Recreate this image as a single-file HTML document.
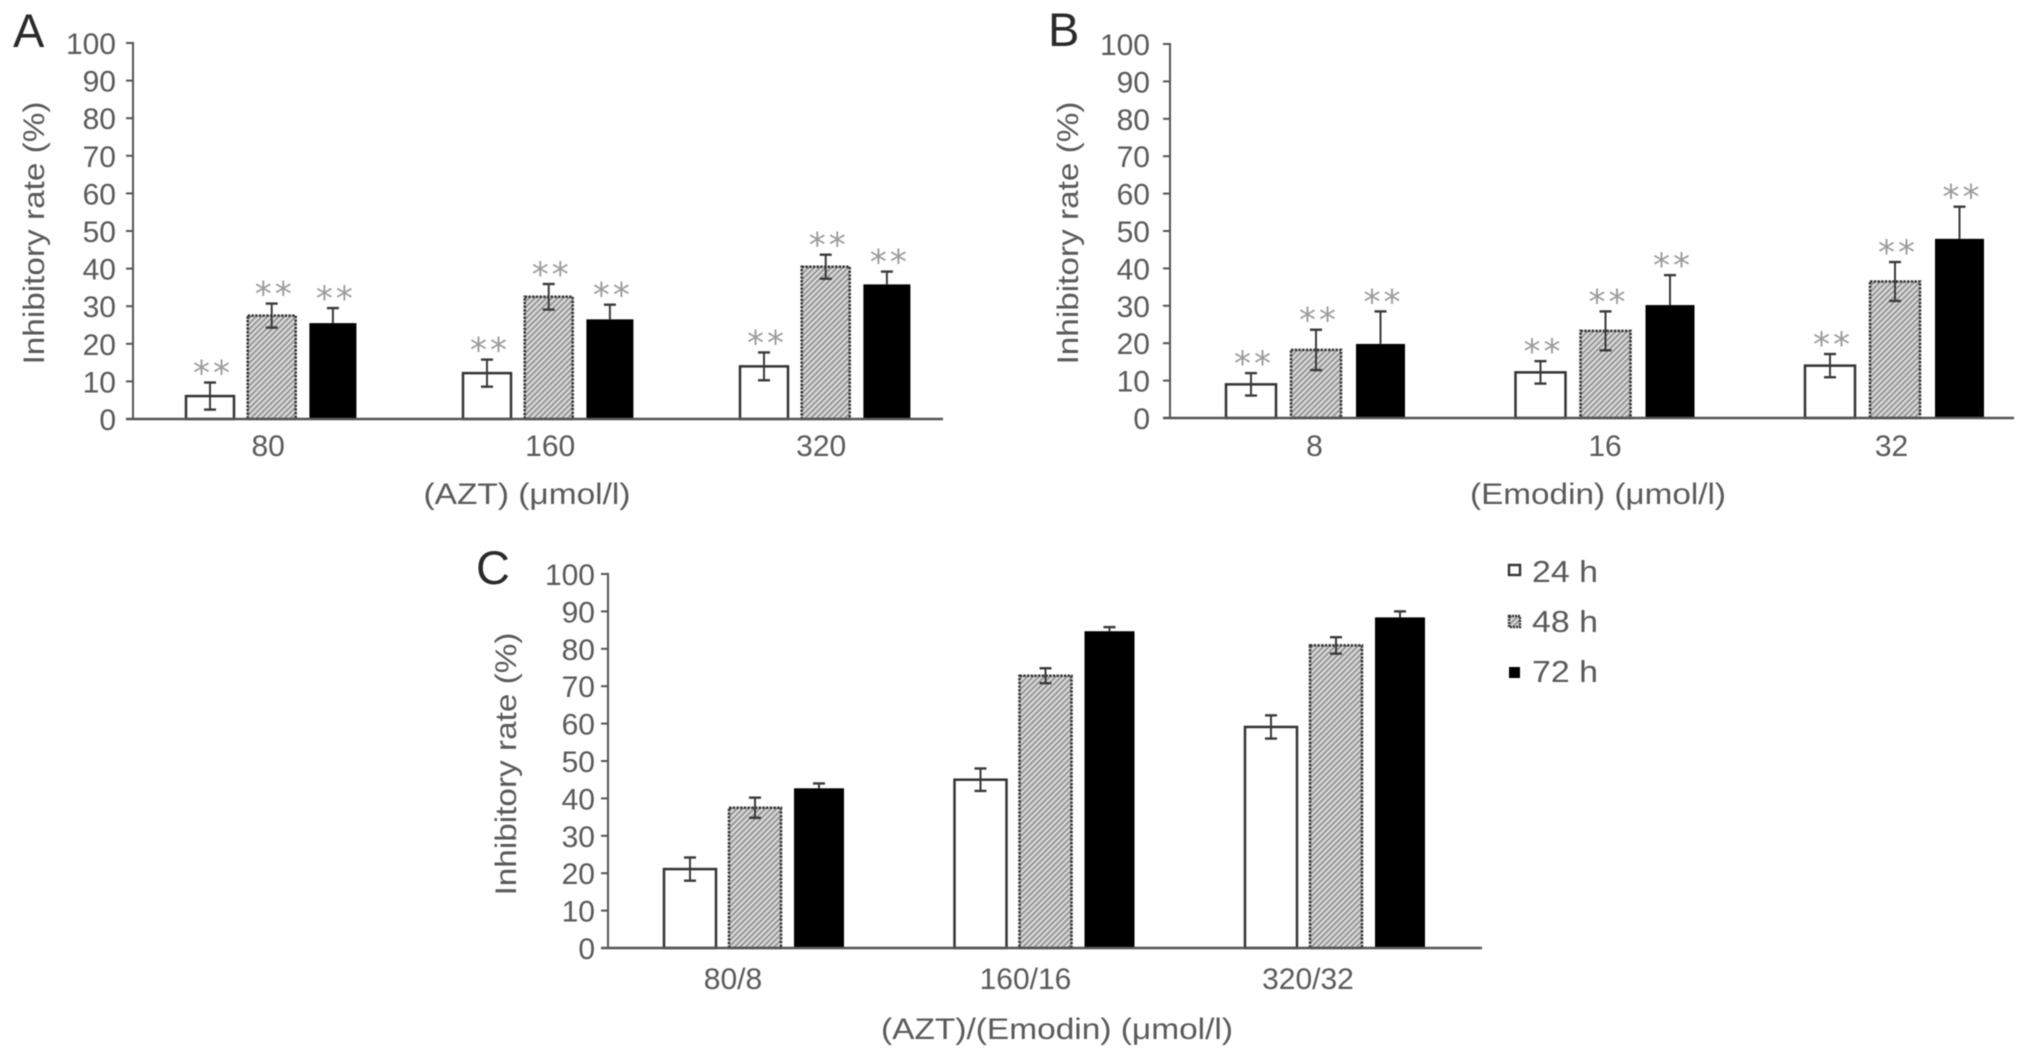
<!DOCTYPE html>
<html lang="en">
<head>
<meta charset="utf-8">
<title>Inhibitory rate of AZT and Emodin</title>
<style>
  html, body { margin: 0; padding: 0; background: #fff; }
  body { width: 2032px; height: 1059px; overflow: hidden; }
  #figure { display: block; filter: blur(0.6px); }
  text { font-family: "Liberation Sans", sans-serif; fill: #5a5a5a; }
  .panel-letter { fill: #2a2a2a; font-size: 47px; }
  .stars { font-family: "DejaVu Sans", sans-serif; fill: #9c9c9c; font-size: 34px; letter-spacing: 3px; }
</style>
</head>
<body>
<svg id="figure" xmlns="http://www.w3.org/2000/svg" width="2032" height="1059" viewBox="0 0 2032 1059">
  <defs>
    <pattern id="hatch" width="4" height="4" patternUnits="userSpaceOnUse" patternTransform="rotate(45)">
      <rect width="4" height="4" fill="#dadada"></rect>
      <line x1="1" y1="0" x2="1" y2="4" stroke="#8a8a8a" stroke-width="1.6"></line>
    </pattern>
  </defs>
  <rect width="2032" height="1059" fill="#ffffff"></rect>

  <text class="panel-letter" x="13" y="47">A</text>
  <text class="panel-letter" x="1048" y="46">B</text>
  <text class="panel-letter" x="476" y="584">C</text>

  <g id="panel-a"></g>
  <g id="panel-b"></g>
  <g id="panel-c"></g>

  <g>
    <g>
      <rect x="1509" y="565" width="11" height="10" fill="#fff" stroke="#333" stroke-width="2.4"></rect>
      <text x="1532" y="582" font-size="31" textLength="66" lengthAdjust="spacingAndGlyphs">24 h</text>
    </g>
    <g>
      <rect x="1509" y="616" width="11" height="11" fill="url(#hatch)" stroke="#333" stroke-width="2.4" stroke-dasharray="2 1"></rect>
      <text x="1532" y="632" font-size="31" textLength="66" lengthAdjust="spacingAndGlyphs">48 h</text>
    </g>
    <g>
      <rect x="1509" y="667" width="11" height="11" fill="#000"></rect>
      <text x="1532" y="682" font-size="31" textLength="66" lengthAdjust="spacingAndGlyphs">72 h</text>
    </g>
  </g>
</svg>

<script>
// ---- data ----
const yTickValues = [0, 10, 20, 30, 40, 50, 60, 70, 80, 90, 100];

const panelACategories = ['80', '160', '320'];
const panelAMeans24h = [6.1, 12.2, 14];
const panelAMeans48h = [27.5, 32.5, 40.5];
const panelAMeans72h = [25.5, 26.5, 35.8];
const panelAErrors24h = [3.6, 3.6, 3.7];
const panelAErrors48h = [3.2, 3.4, 3.2];
const panelAErrors72h = [4, 3.9, 3.4];

const panelBCategories = ['8', '16', '32'];
const panelBMeans24h = [9, 12.2, 14];
const panelBMeans48h = [18.2, 23.3, 36.5];
const panelBMeans72h = [19.8, 30.2, 47.9];
const panelBErrors24h = [3, 3, 3.1];
const panelBErrors48h = [5.4, 5.2, 5.2];
const panelBErrors72h = [8.7, 8, 8.6];

const panelCCategories = ['80/8', '160/16', '320/32'];
const panelCMeans24h = [21.1, 45, 59.1];
const panelCMeans48h = [37.5, 72.8, 80.9];
const panelCMeans72h = [42.7, 84.7, 88.4];
const panelCErrors24h = [3.1, 3, 3.1];
const panelCErrors48h = [2.7, 2, 2.2];
const panelCErrors72h = [1.3, 1.1, 1.6];

const seriesNames = ['24h', '48h', '72h'];

// ---- layout ----
const panelALayout = {
  key: 'panel-a', axisX: 133, xEnd: 943, yTop: 43, yZero: 419, labelRight: 116,
  groupStart: 186, groupStep: 277, barStep: 61.7, barWidths: [48, 48, 47],
  labelNudge: [-3, 2, -4], tickLabelY: 456, titleY: 504,
  xTitle: '(AZT) (\u03bcmol/l)', xTitleCenter: 527, xTitleLength: 207,
  yTitleX: 44, yTitleCenter: 233, stars: true
};
const panelBLayout = {
  key: 'panel-b', axisX: 1170, xEnd: 2014, yTop: 44, yZero: 418, labelRight: 1150,
  groupStart: 1226, groupStep: 289.5, barStep: 65, barWidths: [50, 50, 49],
  labelNudge: [-1, 0, -3], tickLabelY: 456, titleY: 504,
  xTitle: '(Emodin) (\u03bcmol/l)', xTitleCenter: 1598, xTitleLength: 256,
  yTitleX: 1078, yTitleCenter: 233, stars: true
};
const panelCLayout = {
  key: 'panel-c', axisX: 608, xEnd: 1482, yTop: 574, yZero: 948, labelRight: 595,
  groupStart: 664, groupStep: 290.5, barStep: 65, barWidths: [52, 52, 50],
  labelNudge: [-21, -19, -27], tickLabelY: 989, titleY: 1039,
  xTitle: '(AZT)/(Emodin) (\u03bcmol/l)', xTitleCenter: 1057, xTitleLength: 352,
  yTitleX: 516, yTitleCenter: 764, stars: false
};

const SVG_NS = 'http://www.w3.org/2000/svg';
const AXIS_COLOR = '#555555';
const MARK_COLOR = '#3a3a3a';

function make(parent, tag, attrs, content) {
  const el = document.createElementNS(SVG_NS, tag);
  Object.keys(attrs).forEach(function (k) { el.setAttribute(k, attrs[k]); });
  if (content !== undefined) el.textContent = content;
  parent.appendChild(el);
  return el;
}

function drawPanel(layout, categories, means, errors) {
  const root = document.getElementById(layout.key);
  const yScale = function (v) {
    return layout.yZero - (v / 100) * (layout.yZero - layout.yTop);
  };
  const barLeft = function (g, s) {
    return layout.groupStart + g * layout.groupStep + s * layout.barStep;
  };
  const groupCenter = function (g) {
    const last = barLeft(g, 2) + layout.barWidths[2];
    return (barLeft(g, 0) + last) / 2;
  };

  // bars, error bars, significance stars
  categories.forEach(function (cat, g) {
    seriesNames.forEach(function (name, s) {
      const value = means[s][g];
      const err = errors[s][g];
      const w = layout.barWidths[s];
      const x = barLeft(g, s);
      const cx = x + w / 2;
      const attrs = { x: x, y: yScale(value), width: w, height: layout.yZero - yScale(value) };
      if (s === 0) {
        attrs.fill = '#ffffff';
        attrs.stroke = '#333333';
        attrs['stroke-width'] = 2.5;
      } else if (s === 1) {
        attrs.fill = 'url(#hatch)';
        attrs.stroke = '#333333';
        attrs['stroke-width'] = 2.5;
        attrs['stroke-dasharray'] = '2.5 1.2';
      } else {
        attrs.fill = '#000000';
      }
      const bar = make(root, 'rect', attrs);
      
      

      const group = make(root, 'g', { stroke: MARK_COLOR, 'stroke-width': 2, fill: 'none' });
      
      
      const top = yScale(value + err);
      // the lower whisker of a solid black bar is invisible in the figure
      const bottom = s === 2 ? yScale(value) : yScale(value - err);
      const stem = make(group, 'line', { x1: cx, x2: cx, y1: top, y2: bottom });
      
      
      const capTop = make(group, 'line', { x1: cx - 6, x2: cx + 6, y1: top, y2: top, 'stroke-width': 2.4 });
      
      
      if (s !== 2) {
        const capBottom = make(group, 'line', { x1: cx - 6, x2: cx + 6, y1: bottom, y2: bottom, 'stroke-width': 2.4 });
        
        
      }

      if (layout.stars) {
        const star = make(root, 'text', { class: 'stars', x: cx + 3, y: top - 14 + 16, 'text-anchor': 'middle' }, '**');
        
        
      }
    });

    const catLabel = make(root, 'text', {
      x: groupCenter(g) + layout.labelNudge[g], y: layout.tickLabelY,
      'font-size': 30, 'text-anchor': 'middle'
    }, cat);
    
    
  });

  // axes
  const yAxis = make(root, 'line', {
    x1: layout.axisX, x2: layout.axisX, y1: layout.yTop - 1, y2: layout.yZero,
    stroke: AXIS_COLOR, 'stroke-width': 2
  });
  
  

  const xAxis = make(root, 'line', {
    x1: layout.axisX - 7, x2: layout.xEnd, y1: layout.yZero, y2: layout.yZero,
    stroke: AXIS_COLOR, 'stroke-width': 2.4
  });
  
  

  yTickValues.forEach(function (t) {
    const tick = make(root, 'line', {
      x1: layout.axisX - 7, x2: layout.axisX, y1: yScale(t), y2: yScale(t),
      stroke: AXIS_COLOR, 'stroke-width': 2
    });
    
    
    const label = make(root, 'text', {
      x: layout.labelRight, y: yScale(t) + 11, 'font-size': 30, 'text-anchor': 'end'
    }, String(t));
    
    
  });

  // titles
  const xTitle = make(root, 'text', {
    x: layout.xTitleCenter, y: layout.titleY, 'font-size': 30, 'text-anchor': 'middle',
    textLength: layout.xTitleLength, lengthAdjust: 'spacingAndGlyphs'
  }, layout.xTitle);
  
  

  const yTitle = make(root, 'text', {
    x: 0, y: 0, 'font-size': 30, 'text-anchor': 'middle',
    textLength: 263, lengthAdjust: 'spacingAndGlyphs',
    transform: 'translate(' + layout.yTitleX + ' ' + layout.yTitleCenter + ') rotate(-90)'
  }, 'Inhibitory rate (%)');
  
  
}

drawPanel(panelALayout, panelACategories,
  [panelAMeans24h, panelAMeans48h, panelAMeans72h],
  [panelAErrors24h, panelAErrors48h, panelAErrors72h]);
drawPanel(panelBLayout, panelBCategories,
  [panelBMeans24h, panelBMeans48h, panelBMeans72h],
  [panelBErrors24h, panelBErrors48h, panelBErrors72h]);
drawPanel(panelCLayout, panelCCategories,
  [panelCMeans24h, panelCMeans48h, panelCMeans72h],
  [panelCErrors24h, panelCErrors48h, panelCErrors72h]);
</script>
</body>
</html>
